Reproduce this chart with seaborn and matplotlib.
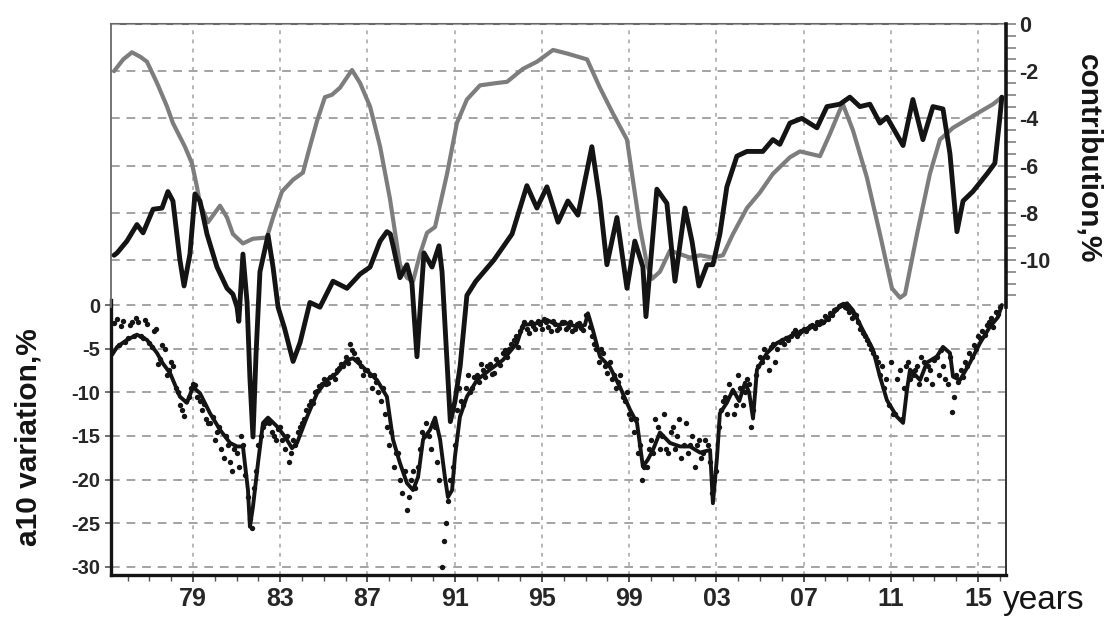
import numpy as np
import pandas as pd
import matplotlib
matplotlib.use("Agg")
import matplotlib.pyplot as plt
from matplotlib.ticker import FixedLocator
import seaborn as sns

# ---------------- data ----------------
# grey curve (right axis, contribution %)
gray_years = [1975.38, 1975.8, 1976.2, 1976.6, 1976.89, 1977.35, 1977.81, 1978.08, 1978.63, 1978.95,
              1979.18, 1979.32, 1979.69, 1980.24, 1980.56, 1980.83, 1981.29, 1981.75, 1982.39, 1982.67,
              1983.08, 1983.59, 1984.04, 1984.36, 1984.69, 1985.05, 1985.37, 1985.74, 1986.29, 1986.66,
              1987.12, 1987.58, 1988.03, 1988.49, 1988.81, 1989.09, 1989.41, 1989.73, 1990.10, 1990.65,
              1991.10, 1991.56, 1992.16, 1992.94, 1993.40, 1994.13, 1994.77, 1995.51, 1996.15, 1997.07,
              1997.66, 1998.26, 1998.90, 1999.17, 1999.49, 1999.82, 2000.05, 2000.41, 2000.87, 2001.33,
              2001.79, 2002.25, 2002.84, 2003.30, 2003.76, 2004.40, 2004.99, 2005.59, 2006.37, 2006.83,
              2007.75, 2008.21, 2008.66, 2008.80, 2009.26, 2009.90, 2010.50, 2011.05, 2011.42, 2011.65,
              2012.20, 2012.79, 2013.25, 2013.85, 2014.76, 2015.68, 2016.09]
gray_vals = [-2.0, -1.5, -1.2, -1.4, -1.6, -2.5, -3.5, -4.2, -5.2, -5.9,
             -6.9, -7.6, -8.4, -7.7, -8.2, -8.9, -9.3, -9.1, -9.05, -8.2,
             -7.1, -6.6, -6.3, -5.2, -4.1, -3.1, -3.0, -2.7, -1.95, -2.5,
             -3.5, -5.2, -7.4, -10.2, -10.75, -10.9, -9.75, -8.85, -8.6, -6.35,
             -4.2, -3.2, -2.6, -2.5, -2.45, -1.9, -1.6, -1.1, -1.25, -1.5,
             -2.7, -3.8, -4.9, -6.6, -8.6, -10.2, -10.8, -10.5, -9.6, -9.75,
             -9.9, -9.8, -9.9, -9.8, -8.9, -7.8, -7.15, -6.35, -5.65, -5.4,
             -5.6, -4.65, -3.65, -3.4, -4.5, -6.5, -8.9, -11.2, -11.6, -11.45,
             -8.9, -6.35, -4.9, -4.4, -3.9, -3.4, -3.1]

# black upper curve (right axis, contribution %)
blk_years = [1975.38, 1975.52, 1975.97, 1976.43, 1976.71, 1977.17, 1977.58, 1977.85, 1978.08, 1978.40,
             1978.59, 1978.86, 1979.09, 1979.32, 1979.64, 1980.10, 1980.56, 1980.83, 1981.02, 1981.10,
             1981.29, 1981.48, 1981.61, 1981.75, 1981.89, 1982.07, 1982.44, 1982.67, 1982.90, 1983.20,
             1983.59, 1983.91, 1984.36, 1984.82, 1985.42, 1986.06, 1986.66, 1987.12, 1987.58, 1987.89,
             1988.05, 1988.20, 1988.49, 1988.81, 1989.04, 1989.27, 1989.59, 1989.96, 1990.28, 1990.42,
             1990.80, 1991.01, 1991.25, 1991.56, 1991.97, 1992.80, 1993.63, 1994.31, 1994.77, 1995.23,
             1995.74, 1996.19, 1996.65, 1997.29, 1997.66, 1997.98, 1998.44, 1998.90, 1999.26, 1999.63,
             1999.77, 2000.27, 2000.73, 2001.10, 2001.56, 2001.88, 2002.20, 2002.57, 2002.84, 2003.16,
             2003.48, 2003.94, 2004.40, 2005.13, 2005.59, 2005.91, 2006.37, 2006.92, 2007.61, 2008.07,
             2008.66, 2009.12, 2009.58, 2010.04, 2010.50, 2010.82, 2011.56, 2012.01, 2012.47, 2012.93,
             2013.39, 2013.71, 2014.03, 2014.31, 2014.76, 2015.41, 2015.77, 2016.00, 2016.09]
blk_vals = [-9.8, -9.7, -9.2, -8.5, -8.85, -7.85, -7.8, -7.1, -7.5, -10.0,
            -11.1, -9.75, -7.2, -7.5, -8.9, -10.3, -11.2, -11.45, -12.0, -12.6,
            -9.75, -11.8, -15.0, -17.5, -14.0, -10.5, -8.95, -10.3, -12.0, -12.9,
            -14.3, -13.5, -11.8, -12.0, -10.9, -11.2, -10.6, -10.3, -9.2, -8.8,
            -8.9, -9.5, -10.75, -10.2, -11.0, -14.1, -9.7, -10.3, -9.4, -10.5,
            -16.85, -16.0, -14.5, -11.5, -10.9, -10.0, -8.9, -6.85, -7.8, -6.9,
            -8.4, -7.5, -8.1, -5.2, -7.5, -10.2, -8.2, -11.2, -9.2, -10.3,
            -12.4, -7.0, -7.6, -10.9, -7.8, -9.2, -11.1, -10.2, -10.2, -8.9,
            -6.9, -5.6, -5.4, -5.4, -4.9, -5.1, -4.2, -4.0, -4.4, -3.5,
            -3.4, -3.1, -3.5, -3.4, -4.2, -3.95, -5.15, -3.2, -4.9, -3.5,
            -3.6, -5.5, -8.8, -7.5, -7.1, -6.35, -5.9, -3.95, -3.1]

# lower solid curve (left axis, a10 variation %)
low_years = [1975.29, 1975.52, 1975.97, 1976.43, 1976.89, 1977.35, 1977.62, 1977.95, 1978.40, 1978.72,
             1979.00, 1979.32, 1979.78, 1980.24, 1980.70, 1981.02, 1981.29, 1981.52, 1981.61, 1981.75,
             1981.98, 1982.21, 1982.44, 1982.85, 1983.22, 1983.54, 1983.77, 1984.23, 1984.69, 1985.14,
             1985.60, 1986.06, 1986.34, 1986.79, 1987.44, 1987.89, 1988.17, 1988.49, 1988.81, 1989.09,
             1989.32, 1989.55, 1989.87, 1990.10, 1990.33, 1990.55, 1990.69, 1990.88, 1991.01, 1991.24,
             1991.56, 1992.02, 1992.62, 1993.21, 1993.86, 1994.13, 1994.77, 1995.23, 1995.69, 1996.15,
             1996.61, 1996.97, 1997.11, 1997.34, 1997.66, 1998.12, 1998.58, 1999.04, 1999.36, 1999.63,
             1999.86, 2000.09, 2000.41, 2000.87, 2001.33, 2001.79, 2002.25, 2002.71, 2002.84, 2003.03,
             2003.16, 2003.48, 2003.76, 2004.05, 2004.31, 2004.50, 2004.68, 2004.86, 2005.32, 2005.78,
             2006.05, 2006.97, 2007.89, 2008.66, 2008.99, 2009.26, 2009.72, 2010.18, 2010.50, 2010.82,
             2011.28, 2011.56, 2011.74, 2011.88, 2012.34, 2012.65, 2013.11, 2013.39, 2013.71, 2013.85,
             2014.17, 2014.63, 2015.09, 2015.54, 2015.91, 2016.09]
low_vals = [-5.7, -4.8, -4.0, -3.4, -4.0, -5.5, -6.7, -7.8, -10.5, -11.2,
            -9.4, -10.1, -12.4, -14.3, -15.8, -16.2, -16.2, -21.2, -25.4, -23.1,
            -18.1, -13.5, -12.9, -13.9, -15.1, -16.4, -15.8, -12.8, -10.1, -8.6,
            -7.8, -6.3, -6.1, -7.1, -8.6, -10.5, -15.4, -18.1, -20.4, -21.2,
            -19.7, -15.4, -14.3, -12.9, -15.4, -19.7, -22.0, -21.2, -17.4, -12.8,
            -10.5, -8.6, -7.4, -6.3, -4.35, -2.3, -2.1, -1.7, -2.3, -2.1,
            -2.5, -2.3, -0.95, -2.9, -5.9, -7.1, -9.4, -12.0, -13.5, -18.5,
            -17.7, -16.6, -14.6, -15.8, -16.2, -16.2, -16.9, -16.6, -22.7, -17.4,
            -12.4, -11.2, -9.7, -11.0, -8.9, -10.0, -13.0, -7.4, -5.5, -4.35,
            -4.0, -2.9, -2.1, -0.2, 0.2, -0.6, -2.9, -5.1, -8.2, -10.9,
            -12.8, -13.5, -9.7, -7.4, -8.6, -6.6, -5.9, -4.8, -5.5, -8.2,
            -8.6, -6.6, -4.35, -2.5, -1.4, 0.0]

# scattered observations (left axis), first set: every 0.2 year from 1975.4
dots_a_start = 1975.4
dots_a_vals = [
    -2.1, -4.6, -1.8,
    -3.8, -2.0, -1.5, -3.5, -1.7,
    -4.4, -3.0, -6.8, -4.6, -8.0,
    -6.5, -9.5, -11.5, -12.7, -10.5,
    -9.0, -10.5, -12.0, -13.0, -13.5,
    -15.5, -14.0, -17.5, -16.0, -19.0,
    -17.0, -15.0, -19.5, -24.5, -21.0,
    -16.0, -14.0, -13.0, -14.5, -15.5,
    -14.0, -16.5, -18.0, -15.5, -14.5,
    -13.5, -12.0, -11.0, -10.0, -9.3,
    -8.5, -8.9, -8.0, -7.4, -6.8,
    -6.0, -4.5, -5.5, -6.5, -8.0,
    -7.5, -9.5, -8.8, -11.0, -12.5,
    -16.0, -18.5, -17.0, -21.5, -23.5,
    -20.0, -21.0, -16.5, -15.0, -15.0,
    -13.5, -18.0, -30.0, -25.0, -20.0,
    -16.0, -9.5, -11.5, -8.0, -9.5,
    -8.0, -6.7, -8.2, -6.8, -7.8,
    -6.5, -5.5, -6.0, -4.5, -3.5,
    -3.0, -2.0, -3.2, -2.4, -1.8,
    -2.8, -1.9, -3.0, -2.2, -2.6,
    -1.9, -2.5, -3.0, -2.2, -2.6,
    -1.2, -2.5, -4.5, -6.5, -5.5,
    -7.8, -8.5, -9.5, -8.0, -11.0,
    -12.5, -14.5, -17.0, -20.0, -18.5,
    -15.5, -13.0, -16.5, -12.5, -17.0,
    -14.0, -15.0, -17.5, -13.5, -16.0,
    -18.5, -15.5, -17.0, -16.0, -21.5,
    -19.0, -12.0, -10.5, -9.0, -12.5,
    -8.0, -11.5, -8.5, -14.0, -8.0,
    -6.0, -5.0, -7.5, -4.5, -5.0,
    -4.0, -3.8, -3.5, -2.9, -3.2,
    -2.7, -2.6, -2.3, -2.0, -1.8,
    -1.3, -0.9, -0.6, -0.1, 0.1,
    -0.4, -1.5, -1.2, -2.8, -3.6,
    -4.5, -5.5, -6.5, -7.0, -8.5,
    -6.5, -12.5, -7.5, -9.5, -6.5,
    -8.0, -7.0, -6.0, -8.5, -7.5,
    -6.3, -8.0, -7.0, -9.0, -12.2,
    -8.0, -7.5, -6.5, -5.5, -4.6,
    -3.5, -3.0, -2.3, -1.5, -0.8,
    -0.2,
]
# second set: every 0.2 year from 1975.5
dots_b_start = 1975.5
dots_b_vals = [
    -1.6, -2.4, -4.2,
    -2.3, -3.6, -2.0, -3.8, -2.2,
    -4.8, -2.8, -6.2, -5.0, -7.5,
    -7.0, -10.0, -12.0, -11.0, -9.5,
    -9.2, -11.0, -11.3, -13.5, -12.8,
    -14.5, -16.5, -15.0, -18.0, -16.5,
    -18.5, -16.0, -22.0, -25.5, -19.0,
    -15.0, -13.5, -13.5, -15.0, -14.2,
    -15.5, -15.0, -17.0, -16.0, -14.0,
    -13.0, -11.5, -11.2, -9.8, -9.0,
    -9.0, -8.3, -8.5, -7.2, -7.0,
    -6.6, -5.2, -6.2, -7.0, -7.4,
    -8.0, -8.0, -10.0, -9.5, -14.0,
    -14.5, -17.0, -20.0, -19.0, -22.0,
    -19.0, -18.5, -14.5, -13.5, -16.5,
    -14.0, -20.0, -27.0, -22.5, -18.5,
    -12.0, -11.0, -9.5, -10.0, -8.2,
    -8.8, -7.5, -7.0, -7.9, -6.2,
    -6.9, -5.2, -5.0, -4.0, -4.8,
    -2.5, -2.8, -1.9, -2.7, -2.2,
    -1.6, -2.5, -1.8, -2.9, -2.0,
    -2.8, -1.9, -2.7, -2.1, -2.9,
    -1.5, -3.5, -5.0, -5.0, -7.0,
    -6.5, -8.0, -8.8, -10.5, -10.0,
    -13.0, -13.0, -16.0, -18.5, -16.5,
    -17.0, -14.0, -15.0, -16.5, -14.5,
    -16.5, -13.0, -16.0, -17.0, -15.0,
    -16.0, -17.5, -15.5, -18.0, -20.0,
    -14.0, -11.0, -12.5, -10.0, -11.5,
    -9.5, -10.0, -9.0, -12.0, -7.0,
    -6.5, -6.0, -4.8, -6.5, -4.2,
    -4.5, -4.0, -3.2, -3.6, -3.0,
    -3.0, -2.4, -2.6, -2.2, -2.0,
    -1.6, -1.2, -0.5, 0.0, -0.2,
    -0.8, -1.0, -2.0, -3.2, -4.0,
    -5.0, -6.0, -8.0, -9.5, -11.5,
    -12.5, -8.5, -13.0, -7.0, -8.5,
    -7.5, -9.0, -6.5, -7.0, -9.0,
    -6.0, -5.2, -8.5, -6.0, -10.5,
    -8.8, -8.2, -7.0, -6.0, -5.0,
    -3.8, -3.4, -2.0, -2.5, -1.0,
]
dot_step = 0.2

x_ticks = [1979, 1983, 1987, 1991, 1995, 1999, 2003, 2007, 2011, 2015]
x_tick_labels = ["79", "83", "87", "91", "95", "99", "03", "07", "11", "15"]
left_ticks = [0, -5, -10, -15, -20, -25, -30]
left_tick_labels = ["0", "-5", "-10", "-15", "-20", "-25", "-30"]
right_ticks = [0, -2, -4, -6, -8, -10]
right_tick_labels = ["0", "-2", "-4", "-6", "-8", "-10"]

# ---------------- style ----------------
sns.set_theme(style="white")
plt.rcParams["font.family"] = ["Liberation Sans", "DejaVu Sans"]

W, H = 1108, 617
fig = plt.figure(figsize=(W / 100, H / 100), dpi=100)
L, R, T, B = 111, 1006, 24, 575
ax = fig.add_axes([L / W, 1 - B / H, (R - L) / W, (B - T) / H])
ax2 = ax.twinx()

ax.set_xlim(1975.24, 2016.28)
ax.set_ylim(-30.92, 32.18)
ax2.set_ylim(-23.35, 0)

GRID = "#a3a3a3"
GRAY = "#7d7d7d"
BLACK = "#141414"

# lower series: observations
dots_years = np.concatenate([
    np.round(dots_a_start + dot_step * np.arange(len(dots_a_vals)), 2),
    np.round(dots_b_start + dot_step * np.arange(len(dots_b_vals)), 2),
])
df_dots = pd.DataFrame({"year": dots_years, "val": dots_a_vals + dots_b_vals})
sns.scatterplot(data=df_dots, x="year", y="val", ax=ax, color=BLACK, s=15,
                linewidth=0, marker="o", zorder=3, legend=False)
df_low = pd.DataFrame({"year": low_years, "val": low_vals})
sns.lineplot(data=df_low, x="year", y="val", ax=ax, color=BLACK, linewidth=2.8,
             estimator=None, sort=False, zorder=4, legend=False,
             solid_joinstyle="round")

# upper series
df_gray = pd.DataFrame({"year": gray_years, "val": gray_vals})
df_blk = pd.DataFrame({"year": blk_years, "val": blk_vals})
sns.lineplot(data=df_gray, x="year", y="val", ax=ax2, color=GRAY, linewidth=3.0,
             estimator=None, sort=False, zorder=3, legend=False,
             solid_joinstyle="round")
sns.lineplot(data=df_blk, x="year", y="val", ax=ax2, color=BLACK, linewidth=3.5,
             estimator=None, sort=False, zorder=4, legend=False,
             solid_joinstyle="round")

ax.set_xlabel("")
ax.set_ylabel("")
ax2.set_ylabel("")

# ticks
ax.xaxis.set_major_locator(FixedLocator(x_ticks))
ax.set_xticklabels(x_tick_labels, fontsize=18, fontweight="bold")
ax.xaxis.set_minor_locator(FixedLocator(list(range(1976, 2017))))
ax.tick_params(axis="x", which="major", bottom=True, direction="out", length=5, width=1.2,
               color="#333333", pad=3.5)
ax.tick_params(axis="x", which="minor", bottom=True, direction="out", length=4, width=1.0,
               color="#555555")

ax.set_yticks(left_ticks)
ax.set_yticklabels(left_tick_labels, fontsize=14.5, fontweight="bold")
ax.tick_params(axis="y", which="major", left=True, direction="out", length=4, width=1.2,
               color="#555555", pad=3.5)

ax2.set_yticks(right_ticks)
ax2.set_yticklabels(right_tick_labels, fontsize=15.5, fontweight="bold")
ax2.yaxis.set_minor_locator(FixedLocator([v / 2 for v in range(-24, 0) if v % 4 != 0]))
ax2.tick_params(axis="y", which="both", right=True, direction="out", length=7.5, width=1.1,
                color="#777777", pad=2)

# grid
ax.set_axisbelow(True)
ax2.set_axisbelow(True)
ax.grid(False)
ax2.grid(False)
ax.xaxis.grid(True, which="major", color=GRID, linestyle=(0, (2.5, 3.5)), linewidth=1.1)
ax.yaxis.grid(True, which="major", color=GRID, linestyle=(0, (4.5, 3.5)), linewidth=1.4)
ax2.yaxis.grid(True, which="major", color=GRID, linestyle=(0, (4.5, 3.5)), linewidth=1.4)

# spines
for s in ax.spines.values():
    s.set_visible(True)
for s in ax2.spines.values():
    s.set_visible(False)
ax.spines["top"].set_color("#6a6a6a")
ax.spines["top"].set_linewidth(1.5)
ax.spines["bottom"].set_color(BLACK)
ax.spines["bottom"].set_linewidth(2.4)
ax.spines["left"].set_color(BLACK)
ax.spines["left"].set_linewidth(2.4)
ax.spines["left"].set_bounds(-30.92, 0.6)
ax.spines["right"].set_color("#333333")
ax.spines["right"].set_linewidth(1.4)
ax.spines["right"].set_bounds(-30.92, 0.6)
ax2.spines["left"].set_visible(True)
ax2.spines["left"].set_color("#6a6a6a")
ax2.spines["left"].set_linewidth(1.3)
ax2.spines["left"].set_bounds(-12.0, 0)
ax2.spines["right"].set_visible(True)
ax2.spines["right"].set_color(BLACK)
ax2.spines["right"].set_linewidth(2.6)
ax2.spines["right"].set_bounds(-12.0, 0)

# labels
fig.text(29 / W, 1 - 437 / H, "a10 variation,%", rotation=90, ha="center", va="center",
         fontsize=21.5, fontweight="bold", color=BLACK)
fig.text(1088 / W, 1 - 159 / H, "contribution,%", rotation=-90, ha="center", va="center",
         fontsize=21.5, fontweight="bold", color=BLACK)
fig.text(1003 / W, 1 - 609 / H, "years", ha="left", va="baseline", fontsize=24,
         color=BLACK)

fig.savefig("out.png", dpi=100)
